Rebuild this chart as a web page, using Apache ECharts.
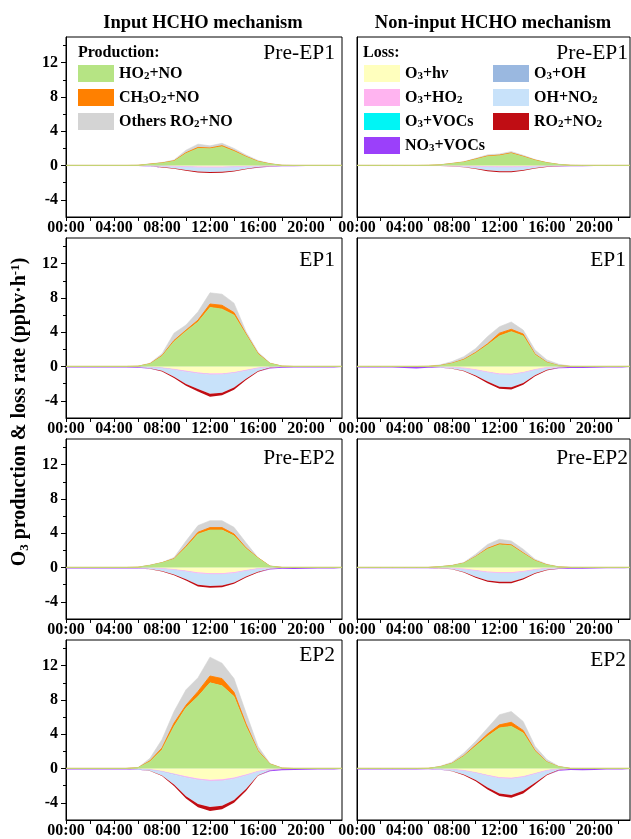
<!DOCTYPE html>
<html><head><meta charset="utf-8">
<script src="https://cdn.jsdelivr.net/npm/echarts@6/dist/echarts.min.js"></script>
<style>html,body{margin:0;padding:0;background:#fff}#c{width:631px;height:839px}</style>
</head><body><div id="c"></div>
<script>
// ---------- axes / labels ----------
const hours = ['0','1','2','3','4','5','6','7','8','9','10','11','12','13','14','15','16','17','18','19','20','21','22','23'];
const xTickLabels = ['00:00','04:00','08:00','12:00','16:00','20:00'];
const yTickValues = [-4,0,4,8,12];
const yMinorTickValues = [-2,2,6,10,14];
const columnTitles = ['Input HCHO mechanism','Non-input HCHO mechanism'];
const periodNames = ['Pre-EP1','EP1','Pre-EP2','EP2'];
const prodNames = ['HO2+NO','CH3O2+NO','Others RO2+NO'];
const lossNames = ['O3+hν','O3+HO2','O3+VOCs','O3+OH','OH+NO2','RO2+NO2','NO3+VOCs'];
const lossLegendCol1 = ['O3+hν','O3+HO2','O3+VOCs','NO3+VOCs'];
const lossLegendCol2 = ['O3+OH','OH+NO2','RO2+NO2'];

// ---------- Pre-EP1, input HCHO ----------
const A_HO2NO   = [0.02,0.02,0.02,0.02,0.02,0.02,0.03,0.15,0.28,0.5,1.4,2.0,1.95,2.2,1.65,1.0,0.45,0.18,0.03,0.02,0.02,0.02,0.02,0.02];
const A_CH3O2NO = [0,0,0,0,0,0,0,0.02,0.03,0.05,0.1,0.12,0.1,0.12,0.1,0.07,0.04,0.02,0,0,0,0,0,0];
const A_RO2NO   = [0,0,0,0,0,0,0.01,0.03,0.04,0.1,0.3,0.38,0.25,0.28,0.25,0.17,0.1,0.05,0.02,0,0,0,0,0];
const A_O3hv    = [0,0,0,0,0,0,0,0,-0.03,-0.06,-0.1,-0.13,-0.15,-0.15,-0.12,-0.08,-0.04,-0.01,0,0,0,0,0,0];
const A_O3HO2   = [0,0,0,0,0,0,0,0,0,-0.01,-0.02,-0.03,-0.03,-0.03,-0.02,-0.01,0,0,0,0,0,0,0,0];
const A_O3VOC   = [-0.01,-0.01,-0.01,-0.01,-0.01,-0.01,-0.02,-0.02,-0.02,-0.02,-0.02,-0.02,-0.02,-0.02,-0.02,-0.02,-0.02,-0.02,-0.01,-0.01,-0.01,-0.01,-0.01,-0.01];
const A_O3OH    = [0,0,0,0,0,0,0,0,0,0,-0.01,-0.01,-0.01,-0.01,-0.01,0,0,0,0,0,0,0,0,0];
const A_OHNO2   = [0,0,0,0,0,0,0,-0.05,-0.12,-0.22,-0.36,-0.5,-0.53,-0.5,-0.43,-0.26,-0.12,-0.05,0,0,0,0,0,0];
const A_RO2NO2  = [0,0,0,0,0,0,0,-0.02,-0.05,-0.06,-0.09,-0.11,-0.12,-0.12,-0.1,-0.07,-0.05,-0.03,-0.01,0,0,0,0,0];
const A_NO3VOC  = [-0.05,-0.05,-0.05,-0.05,-0.05,-0.05,-0.04,-0.01,0,0,0,0,0,0,0,0,-0.01,-0.04,-0.07,-0.06,-0.05,-0.05,-0.05,-0.05];

// ---------- Pre-EP1, non-input HCHO ----------
const B_HO2NO   = [0.02,0.02,0.02,0.02,0.02,0.02,0.03,0.08,0.22,0.38,0.72,1.05,1.15,1.4,1.02,0.6,0.31,0.12,0.03,0.02,0.02,0.02,0.02,0.02];
const B_CH3O2NO = [0,0,0,0,0,0,0,0,0.02,0.03,0.05,0.07,0.07,0.08,0.06,0.04,0.02,0.01,0,0,0,0,0,0];
const B_RO2NO   = [0,0,0,0,0,0,0,0.02,0.03,0.05,0.08,0.13,0.14,0.15,0.12,0.06,0.04,0.02,0.01,0,0,0,0,0];
const B_O3hv    = [0,0,0,0,0,0,0,0,-0.02,-0.04,-0.07,-0.1,-0.12,-0.12,-0.1,-0.06,-0.03,0,0,0,0,0,0,0];
const B_O3HO2   = [0,0,0,0,0,0,0,0,0,0,-0.01,-0.02,-0.02,-0.02,-0.02,-0.01,0,0,0,0,0,0,0,0];
const B_O3VOC   = [-0.01,-0.01,-0.01,-0.01,-0.01,-0.01,-0.01,-0.01,-0.01,-0.01,-0.01,-0.01,-0.01,-0.01,-0.01,-0.01,-0.01,-0.01,-0.01,-0.01,-0.01,-0.01,-0.01,-0.01];
const B_O3OH    = [0,0,0,0,0,0,0,0,0,0,0,-0.01,-0.01,-0.01,0,0,0,0,0,0,0,0,0,0];
const B_OHNO2   = [0,0,0,0,0,0,0,-0.03,-0.06,-0.12,-0.25,-0.42,-0.5,-0.5,-0.38,-0.21,-0.08,-0.03,0,0,0,0,0,0];
const B_RO2NO2  = [0,0,0,0,0,0,0,-0.01,-0.03,-0.04,-0.06,-0.09,-0.11,-0.11,-0.08,-0.06,-0.04,-0.03,-0.01,0,0,0,0,0];
const B_NO3VOC  = [-0.04,-0.04,-0.04,-0.04,-0.04,-0.04,-0.03,-0.01,0,0,0,0,0,0,0,0,-0.01,-0.03,-0.06,-0.06,-0.05,-0.04,-0.04,-0.04];

// ---------- EP1, input HCHO ----------
const C_HO2NO   = [0.02,0.02,0.02,0.02,0.02,0.02,0.04,0.3,1.2,2.9,4.1,5.2,6.9,6.7,6.0,3.7,1.45,0.35,0.05,0.02,0.02,0.02,0.02,0.02];
const C_CH3O2NO = [0,0,0,0,0,0,0,0.03,0.08,0.15,0.15,0.22,0.4,0.45,0.3,0.12,0.08,0.02,0,0,0,0,0,0];
const C_RO2NO   = [0,0,0,0,0,0,0.01,0.07,0.22,0.85,0.6,0.98,1.3,1.3,1.1,0.28,0.17,0.05,0.01,0,0,0,0,0];
const C_O3hv    = [0,0,0,0,0,0,0,-0.05,-0.15,-0.3,-0.5,-0.7,-0.82,-0.8,-0.65,-0.4,-0.15,-0.03,0,0,0,0,0,0];
const C_O3HO2   = [0,0,0,0,0,0,0,0,0,-0.02,-0.04,-0.05,-0.06,-0.06,-0.05,-0.03,-0.01,0,0,0,0,0,0,0];
const C_O3VOC   = [-0.02,-0.02,-0.02,-0.02,-0.02,-0.02,-0.04,-0.05,-0.05,-0.03,-0.03,-0.03,-0.03,-0.03,-0.03,-0.03,-0.03,-0.02,-0.02,-0.02,-0.02,-0.02,-0.02,-0.02];
const C_O3OH    = [0,0,0,0,0,0,0,0,0,-0.02,-0.02,-0.02,-0.02,-0.02,-0.02,-0.02,0,0,0,0,0,0,0,0];
const C_OHNO2   = [0,0,0,0,0,0,-0.02,-0.09,-0.3,-0.83,-1.43,-1.83,-2.25,-2.13,-1.68,-0.93,-0.32,-0.07,0,0,0,0,0,0];
const C_RO2NO2  = [0,0,0,0,0,0,0,-0.03,-0.08,-0.14,-0.22,-0.28,-0.34,-0.32,-0.27,-0.16,-0.09,-0.04,-0.01,0,0,0,0,0];
const C_NO3VOC  = [-0.1,-0.1,-0.1,-0.1,-0.1,-0.1,-0.08,-0.02,0,0,0,0,0,0,0,0,0,-0.06,-0.12,-0.1,-0.1,-0.1,-0.1,-0.1];

// ---------- EP1, non-input HCHO ----------
const D_HO2NO   = [0.02,0.02,0.02,0.02,0.02,0.02,0.03,0.1,0.35,0.78,1.55,2.52,3.57,4.07,3.57,1.36,0.46,0.1,0.02,0.02,0.02,0.02,0.02,0.02];
const D_CH3O2NO = [0,0,0,0,0,0,0,0.02,0.04,0.06,0.1,0.13,0.33,0.28,0.23,0.09,0.04,0.01,0,0,0,0,0,0];
const D_RO2NO   = [0,0,0,0,0,0,0.02,0.08,0.19,0.32,0.45,0.85,0.75,0.85,0.46,0.49,0.28,0.16,0.03,0,0,0,0,0];
const D_O3hv    = [0,0,0,0,0,0,0,-0.02,-0.07,-0.16,-0.35,-0.6,-0.82,-0.85,-0.65,-0.33,-0.1,-0.02,0,0,0,0,0,0];
const D_O3HO2   = [0,0,0,0,0,0,0,0,0,0,-0.02,-0.03,-0.05,-0.05,-0.04,-0.02,0,0,0,0,0,0,0,0];
const D_O3VOC   = [-0.02,-0.02,-0.02,-0.02,-0.02,-0.02,-0.03,-0.03,-0.03,-0.02,-0.02,-0.02,-0.02,-0.02,-0.02,-0.02,-0.02,-0.02,-0.02,-0.02,-0.02,-0.02,-0.02,-0.02];
const D_O3OH    = [0,0,0,0,0,0,0,0,0,0,-0.02,-0.02,-0.02,-0.02,-0.02,0,0,0,0,0,0,0,0,0];
const D_OHNO2   = [0,0,0,0,0,0,0,-0.05,-0.12,-0.31,-0.63,-1.08,-1.44,-1.48,-1.18,-0.63,-0.25,-0.07,0,0,0,0,0,0];
const D_RO2NO2  = [0,0,0,0,0,0,0,-0.02,-0.04,-0.07,-0.12,-0.19,-0.25,-0.26,-0.22,-0.14,-0.08,-0.04,-0.01,0,0,0,0,0];
const D_NO3VOC  = [-0.08,-0.08,-0.08,-0.08,-0.15,-0.2,-0.1,-0.02,0,0,0,0,0,0,0,0,0,-0.05,-0.15,-0.15,-0.12,-0.08,-0.08,-0.08];

// ---------- Pre-EP2, input HCHO ----------
const E_HO2NO   = [0.02,0.02,0.02,0.02,0.02,0.02,0.04,0.25,0.55,0.98,2.35,3.9,4.37,4.37,3.7,2.2,1.1,0.15,0.02,0.02,0.02,0.02,0.02,0.02];
const E_CH3O2NO = [0,0,0,0,0,0,0,0,0.02,0.05,0.15,0.22,0.3,0.3,0.22,0.1,0.04,0.01,0,0,0,0,0,0];
const E_RO2NO   = [0,0,0,0,0,0,0.01,0.05,0.03,0.14,0.6,0.78,0.8,0.8,0.78,0.6,0.03,0.04,0.01,0,0,0,0,0];
const E_O3hv    = [0,0,0,0,0,0,0,-0.03,-0.1,-0.22,-0.38,-0.58,-0.66,-0.66,-0.55,-0.32,-0.12,-0.02,0,0,0,0,0,0];
const E_O3HO2   = [0,0,0,0,0,0,0,0,0,-0.01,-0.02,-0.04,-0.05,-0.05,-0.04,-0.02,0,0,0,0,0,0,0,0];
const E_O3VOC   = [-0.02,-0.02,-0.02,-0.02,-0.02,-0.02,-0.03,-0.05,-0.05,-0.02,-0.02,-0.02,-0.02,-0.02,-0.02,-0.02,-0.02,-0.02,-0.02,-0.02,-0.02,-0.02,-0.02,-0.02];
const E_O3OH    = [0,0,0,0,0,0,0,0,0,-0.01,-0.01,-0.01,-0.01,-0.01,-0.01,-0.01,0,0,0,0,0,0,0,0];
const E_OHNO2   = [0,0,0,0,0,0,-0.02,-0.09,-0.25,-0.55,-0.93,-1.36,-1.4,-1.36,-1.11,-0.68,-0.35,-0.1,0,0,0,0,0,0];
const E_RO2NO2  = [0,0,0,0,0,0,0,-0.02,-0.05,-0.09,-0.14,-0.19,-0.21,-0.2,-0.17,-0.12,-0.08,-0.04,-0.01,0,0,0,0,0];
const E_NO3VOC  = [-0.08,-0.08,-0.08,-0.08,-0.08,-0.08,-0.06,-0.01,0,0,0,0,0,0,0,0,0,-0.04,-0.12,-0.14,-0.12,-0.08,-0.08,-0.08];

// ---------- Pre-EP2, non-input HCHO ----------
const F_HO2NO   = [0.02,0.02,0.02,0.02,0.02,0.02,0.02,0.1,0.22,0.5,1.25,2.15,2.65,2.55,1.64,0.78,0.3,0.07,0.02,0.02,0.02,0.02,0.02,0.02];
const F_CH3O2NO = [0,0,0,0,0,0,0,0,0.01,0.02,0.05,0.1,0.12,0.1,0.08,0.04,0.02,0,0,0,0,0,0,0];
const F_RO2NO   = [0,0,0,0,0,0,0,0.02,0.04,0.08,0.26,0.45,0.53,0.45,0.43,0.15,0.08,0.03,0.01,0,0,0,0,0];
const F_O3hv    = [0,0,0,0,0,0,0,-0.02,-0.06,-0.16,-0.32,-0.48,-0.55,-0.55,-0.42,-0.22,-0.08,-0.01,0,0,0,0,0,0];
const F_O3HO2   = [0,0,0,0,0,0,0,0,0,0,-0.02,-0.03,-0.04,-0.04,-0.03,-0.01,0,0,0,0,0,0,0,0];
const F_O3VOC   = [-0.02,-0.02,-0.02,-0.02,-0.02,-0.02,-0.03,-0.03,-0.03,-0.02,-0.02,-0.02,-0.02,-0.02,-0.02,-0.02,-0.02,-0.04,-0.02,-0.02,-0.02,-0.02,-0.02,-0.02];
const F_O3OH    = [0,0,0,0,0,0,0,0,0,0,-0.01,-0.01,-0.01,-0.01,-0.01,0,0,0,0,0,0,0,0,0];
const F_OHNO2   = [0,0,0,0,0,0,0,-0.04,-0.09,-0.34,-0.7,-0.96,-1.04,-1.04,-0.78,-0.38,-0.15,-0.05,0,0,0,0,0,0];
const F_RO2NO2  = [0,0,0,0,0,0,0,-0.01,-0.03,-0.06,-0.11,-0.15,-0.16,-0.16,-0.12,-0.08,-0.05,-0.03,-0.01,0,0,0,0,0];
const F_NO3VOC  = [-0.06,-0.06,-0.06,-0.06,-0.06,-0.06,-0.05,-0.01,0,0,0,0,0,0,0,0,0,-0.03,-0.1,-0.12,-0.1,-0.06,-0.06,-0.06];

// ---------- EP2, input HCHO ----------
const G_HO2NO   = [0.02,0.02,0.02,0.02,0.02,0.02,0.1,0.8,2.2,4.9,7.1,8.4,10.0,9.65,8.4,4.9,2.0,0.5,0.05,0.02,0.02,0.02,0.02,0.02];
const G_CH3O2NO = [0,0,0,0,0,0,0,0.1,0.2,0.4,0.3,0.6,0.8,0.85,0.5,0.3,0.1,0.03,0,0,0,0,0,0];
const G_RO2NO   = [0,0,0,0,0,0,0,0.3,1.0,1.35,1.8,1.6,2.2,1.8,1.6,1.3,0.5,0.07,0.02,0,0,0,0,0];
const G_O3hv    = [0,0,0,0,0,0,-0.02,-0.1,-0.3,-0.6,-0.9,-1.15,-1.3,-1.25,-1.05,-0.7,-0.3,-0.08,-0.01,0,0,0,0,0];
const G_O3HO2   = [0,0,0,0,0,0,0,0,-0.02,-0.04,-0.07,-0.09,-0.1,-0.1,-0.08,-0.05,-0.02,0,0,0,0,0,0,0];
const G_O3VOC   = [-0.02,-0.02,-0.02,-0.02,-0.02,-0.02,-0.05,-0.06,-0.06,-0.05,-0.04,-0.03,-0.03,-0.03,-0.03,-0.03,-0.03,-0.03,-0.02,-0.02,-0.02,-0.02,-0.02,-0.02];
const G_O3OH    = [0,0,0,0,0,0,0,0,0,-0.03,-0.03,-0.03,-0.03,-0.03,-0.03,-0.03,0,0,0,0,0,0,0,0];
const G_OHNO2   = [0,0,0,0,0,0,-0.03,-0.09,-0.42,-1.13,-2.18,-2.83,-3.03,-2.93,-2.48,-1.58,-0.42,-0.08,0,0,0,0,0,0];
const G_RO2NO2  = [0,0,0,0,0,0,0,-0.03,-0.08,-0.17,-0.27,-0.37,-0.47,-0.42,-0.32,-0.22,-0.08,-0.04,-0.01,0,0,0,0,0];
const G_NO3VOC  = [-0.08,-0.08,-0.08,-0.08,-0.08,-0.08,-0.05,-0.01,0,0,0,0,0,0,0,0,0,-0.08,-0.15,-0.15,-0.12,-0.08,-0.08,-0.08];

// ---------- EP2, non-input HCHO ----------
const H_HO2NO   = [0.02,0.02,0.02,0.02,0.02,0.02,0.03,0.2,0.58,1.43,2.6,3.76,4.73,4.92,4.15,2.0,0.74,0.2,0.02,0.02,0.02,0.02,0.02,0.02];
const H_CH3O2NO = [0,0,0,0,0,0,0,0.01,0.03,0.07,0.15,0.27,0.37,0.48,0.3,0.1,0.04,0.01,0,0,0,0,0,0];
const H_RO2NO   = [0,0,0,0,0,0,0,0.06,0.13,0.32,0.43,0.7,1.18,1.26,1.05,0.5,0.27,0.06,0.01,0,0,0,0,0];
const H_O3hv    = [0,0,0,0,0,0,0,-0.02,-0.08,-0.22,-0.45,-0.75,-1.0,-1.08,-0.9,-0.55,-0.2,-0.03,0,0,0,0,0,0];
const H_O3HO2   = [0,0,0,0,0,0,0,0,0,0,-0.02,-0.04,-0.06,-0.06,-0.05,-0.03,-0.01,0,0,0,0,0,0,0];
const H_O3VOC   = [-0.02,-0.02,-0.02,-0.02,-0.02,-0.02,-0.03,-0.03,-0.03,-0.02,-0.02,-0.02,-0.02,-0.02,-0.02,-0.02,-0.02,-0.02,-0.02,-0.02,-0.02,-0.02,-0.02,-0.02];
const H_O3OH    = [0,0,0,0,0,0,0,0,0,0,-0.02,-0.02,-0.02,-0.02,-0.02,-0.02,0,0,0,0,0,0,0,0];
const H_OHNO2   = [0,0,0,0,0,0,0,-0.05,-0.16,-0.46,-0.83,-1.38,-1.8,-1.9,-1.61,-1.03,-0.45,-0.1,0,0,0,0,0,0];
const H_RO2NO2  = [0,0,0,0,0,0,0,-0.02,-0.05,-0.08,-0.13,-0.23,-0.3,-0.32,-0.3,-0.21,-0.1,-0.04,-0.01,0,0,0,0,0];
const H_NO3VOC  = [-0.08,-0.08,-0.08,-0.08,-0.08,-0.08,-0.05,-0.01,0,0,0,0,0,0,0,0,0,-0.05,-0.15,-0.18,-0.15,-0.1,-0.08,-0.08];

// ---------- panel table ----------
const panels = [
  {row:0,col:0,prod:[A_HO2NO,A_CH3O2NO,A_RO2NO],loss:[A_O3hv,A_O3HO2,A_O3VOC,A_O3OH,A_OHNO2,A_RO2NO2,A_NO3VOC]},
  {row:0,col:1,prod:[B_HO2NO,B_CH3O2NO,B_RO2NO],loss:[B_O3hv,B_O3HO2,B_O3VOC,B_O3OH,B_OHNO2,B_RO2NO2,B_NO3VOC]},
  {row:1,col:0,prod:[C_HO2NO,C_CH3O2NO,C_RO2NO],loss:[C_O3hv,C_O3HO2,C_O3VOC,C_O3OH,C_OHNO2,C_RO2NO2,C_NO3VOC]},
  {row:1,col:1,prod:[D_HO2NO,D_CH3O2NO,D_RO2NO],loss:[D_O3hv,D_O3HO2,D_O3VOC,D_O3OH,D_OHNO2,D_RO2NO2,D_NO3VOC]},
  {row:2,col:0,prod:[E_HO2NO,E_CH3O2NO,E_RO2NO],loss:[E_O3hv,E_O3HO2,E_O3VOC,E_O3OH,E_OHNO2,E_RO2NO2,E_NO3VOC]},
  {row:2,col:1,prod:[F_HO2NO,F_CH3O2NO,F_RO2NO],loss:[F_O3hv,F_O3HO2,F_O3VOC,F_O3OH,F_OHNO2,F_RO2NO2,F_NO3VOC]},
  {row:3,col:0,prod:[G_HO2NO,G_CH3O2NO,G_RO2NO],loss:[G_O3hv,G_O3HO2,G_O3VOC,G_O3OH,G_OHNO2,G_RO2NO2,G_NO3VOC]},
  {row:3,col:1,prod:[H_HO2NO,H_CH3O2NO,H_RO2NO],loss:[H_O3hv,H_O3HO2,H_O3VOC,H_O3OH,H_OHNO2,H_RO2NO2,H_NO3VOC]}
];

// ---------- styles ----------
const SERIF = '"Times New Roman", "Liberation Serif", serif';
const prodColors = ['#b6e484','#ff8000','#d4d4d4'];
const prodLineWidths = [0.9,0.9,0.6];
const prodZ = [5,4,3];
const lossColors = ['#ffffbe','#ffb4f0','#00f5f5','#9ab8e0','#c8e2fa','#c00d14','#9b40fa'];
const lossLineWidths = [0,0.8,0,0,0,0,0];
const gridTops = [37,238,439,640];
const gridLefts = [66,357];
const gridWidths = [276,273];
const gridHeight = 180;
const labelPos = [
  [[335,53],[628,53]],
  [[335,260],[626,260]],
  [[335,458],[628,458]],
  [[335,655],[626,660]]
];

const rich = {
  b:{fontFamily:SERIF,fontWeight:'bold',fontSize:16,lineHeight:17,color:'#000'},
  s:{fontFamily:SERIF,fontWeight:'bold',fontSize:11,lineHeight:8,verticalAlign:'bottom',color:'#000'},
  i:{fontFamily:SERIF,fontWeight:'bold',fontStyle:'italic',fontSize:16,lineHeight:17,color:'#000'}
};
const richNames = {
  'HO2+NO':'{b|HO}{s|2}{b|+NO}',
  'CH3O2+NO':'{b|CH}{s|3}{b|O}{s|2}{b|+NO}',
  'Others RO2+NO':'{b|Others RO}{s|2}{b|+NO}',
  'O3+hν':'{b|O}{s|3}{b|+h}{i|ν}',
  'O3+HO2':'{b|O}{s|3}{b|+HO}{s|2}',
  'O3+VOCs':'{b|O}{s|3}{b|+VOCs}',
  'NO3+VOCs':'{b|NO}{s|3}{b|+VOCs}',
  'O3+OH':'{b|O}{s|3}{b|+OH}',
  'OH+NO2':'{b|OH+NO}{s|2}',
  'RO2+NO2':'{b|RO}{s|2}{b|+NO}{s|2}'
};

const grids=[], xAxes=[], yAxes=[], series=[], graphics=[];
panels.forEach((p,i)=>{
  const left=gridLefts[p.col], top=gridTops[p.row], width=gridWidths[p.col];
  grids.push({left,top,width,height:gridHeight,show:true,borderColor:'#000',borderWidth:1,backgroundColor:'rgba(0,0,0,0)',containLabel:false});
  xAxes.push({type:'category',gridIndex:i,data:hours,boundaryGap:false,
    axisLine:{onZero:false,lineStyle:{color:'#000',width:1}},
    axisTick:{show:true,interval:1,length:4,lineStyle:{color:'#000'}},
    splitLine:{show:false},
    axisLabel:{interval:3,margin:3,color:'#000',fontFamily:SERIF,fontWeight:'bold',fontSize:16,
      formatter:(v,idx)=>(idx%4===0 && xTickLabels[idx/4]!==undefined)?xTickLabels[idx/4]:''}});
  yAxes.push({type:'value',gridIndex:i,min:-6,max:15,
    axisLine:{show:true,onZero:false,lineStyle:{color:'#000',width:1}},
    splitLine:{show:false},
    axisTick:{show:p.col===0,customValues:yTickValues,length:5,lineStyle:{color:'#000'}},
    axisLabel:{show:p.col===0,customValues:yTickValues,margin:8,color:'#000',fontFamily:SERIF,fontWeight:'bold',fontSize:16}});
  p.prod.forEach((arr,k)=>{
    series.push({type:'line',name:prodNames[k],xAxisIndex:i,yAxisIndex:i,stack:'prod'+i,z:prodZ[k],
      data:arr,symbol:'none',showSymbol:false,color:prodColors[k],
      lineStyle:{width:prodLineWidths[k],color:prodColors[k]},areaStyle:{color:prodColors[k],opacity:1},
      emphasis:{disabled:true},silent:true});
  });
  p.loss.forEach((arr,k)=>{
    series.push({type:'line',name:lossNames[k],xAxisIndex:i,yAxisIndex:i,stack:'loss'+i,z:2,
      data:arr,symbol:'none',showSymbol:false,color:lossColors[k],
      lineStyle:{width:lossLineWidths[k],color:lossColors[k]},areaStyle:{color:lossColors[k],opacity:1},
      emphasis:{disabled:true},silent:true});
  });
  const lp = labelPos[p.row][p.col];
  graphics.push({type:'text',x:lp[0],y:lp[1],z:100,style:{text:periodNames[p.row],fill:'#000',
    font:'21.5px '+SERIF,textAlign:'right',textVerticalAlign:'middle'}});
});
// minor y ticks for the left column
panels.forEach((p,i)=>{
  if(p.col!==0) return;
  yAxes.push({type:'value',gridIndex:i,min:-6,max:15,position:'left',offset:0,
    axisLine:{show:false},splitLine:{show:false},axisLabel:{show:false},
    axisTick:{show:true,customValues:yMinorTickValues,length:3,lineStyle:{color:'#000'}}});
});

graphics.push({type:'text',x:203,y:23,style:{text:columnTitles[0],fill:'#000',font:'bold 18.5px '+SERIF,textAlign:'center',textVerticalAlign:'middle'}});
graphics.push({type:'text',x:493,y:23,style:{text:columnTitles[1],fill:'#000',font:'bold 18.5px '+SERIF,textAlign:'center',textVerticalAlign:'middle'}});
graphics.push({type:'text',x:78,y:53,z:100,style:{text:'Production:',fill:'#000',font:'bold 16px '+SERIF,textAlign:'left',textVerticalAlign:'middle'}});
graphics.push({type:'text',x:363,y:53,z:100,style:{text:'Loss:',fill:'#000',font:'bold 16px '+SERIF,textAlign:'left',textVerticalAlign:'middle'}});
graphics.push({type:'text',x:20,y:412,rotation:Math.PI/2,z:100,style:{
  text:'{b|O}{s|3}{b| production & loss rate (ppbv·h}{p|-1}{b|)}',
  textAlign:'center',textVerticalAlign:'middle',
  rich:{
    b:{fontFamily:SERIF,fontWeight:'bold',fontSize:20,lineHeight:22,fill:'#000',color:'#000'},
    s:{fontFamily:SERIF,fontWeight:'bold',fontSize:13,lineHeight:10,verticalAlign:'bottom',fill:'#000',color:'#000'},
    p:{fontFamily:SERIF,fontWeight:'bold',fontSize:13,lineHeight:10,verticalAlign:'top',fill:'#000',color:'#000'}
  }}});

const legendCommon = {orient:'vertical',itemWidth:36,itemHeight:17,itemGap:7,icon:'rect',selectedMode:false,
  formatter:n=>richNames[n]||n,textStyle:{color:'#000',rich:rich},padding:0};

const chart = echarts.init(document.getElementById('c'),null,{renderer:'canvas'});
chart.setOption({
  animation:false,
  backgroundColor:'#fff',
  grid:grids,xAxis:xAxes,yAxis:yAxes,series:series,
  legend:[
    Object.assign({left:78,top:65,data:prodNames},legendCommon),
    Object.assign({left:364,top:65,data:lossLegendCol1},legendCommon),
    Object.assign({left:493,top:65,data:lossLegendCol2},legendCommon)
  ],
  graphic:graphics
});
</script></body></html>
